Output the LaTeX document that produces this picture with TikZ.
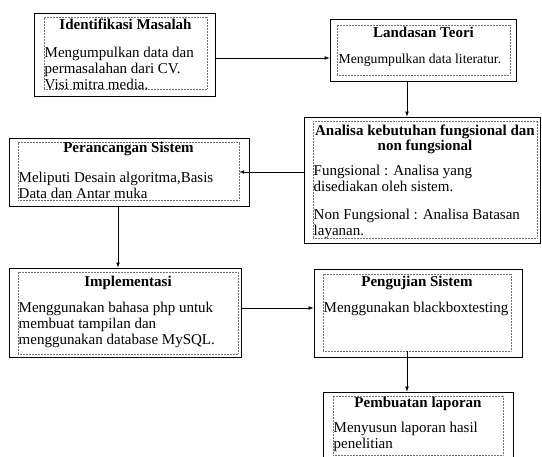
\documentclass[tikz,border=0pt]{standalone}
\usepackage{fontspec}
\setmainfont{Liberation Serif}
\usetikzlibrary{positioning,calc}

\begin{document}
\begin{tikzpicture}[x=1pt, y=-1pt,
    outer/.style={draw, line width=0.9pt, inner sep=0},
    inner/.style={draw=black!55, densely dotted, line width=0.5pt, inner sep=0},
    head/.style={font=\bfseries\fontsize{15}{15}\selectfont, anchor=base, inner sep=0},
    body/.style={font=\fontsize{15}{16}\selectfont, anchor=north west, align=left, inner sep=0},
    link/.style={-latex, line width=0.7pt}]
  \useasboundingbox (0,0) rectangle (542,457);
  \clip (0,0) rectangle (542,457);
  \fill[white] (0,0) rectangle (542,457);

  % Identifikasi Masalah
  \node[outer, minimum width=181pt, minimum height=83pt] (identBox) at (124.5,54.5) {};
  \node[inner, minimum width=163pt, minimum height=72pt] (identIn) at (125.5,53) {};
  \node[head] (identHead) at (125.5,29.5) {Identifikasi Masalah};
  \node[body] (identText) at (44.5,46.7) {Mengumpulkan data dan\\ permasalahan dari CV.\\ Visi mitra media.};

  % Landasan Teori
  \node[outer, minimum width=186pt, minimum height=62pt] (landBox) at (423,50) {};
  \node[inner, minimum width=173pt, minimum height=50pt] (landIn) at (423.5,50) {};
  \node[head] (landHead) at (423.5,38) {Landasan Teori};
  \node[body, font=\fontsize{13.7}{16}\selectfont] (landText) at (338.5,53.6) {Mengumpulkan data literatur.};

  % Analisa kebutuhan
  \node[outer, minimum width=236.5pt, minimum height=126pt] (analisaBox) at (422.25,180) {};
  \node[inner, minimum width=224pt, minimum height=117pt] (analisaIn) at (425,179.5) {};
  \node[head, anchor=north, align=center] (analisaHead) at (425,125) {Analisa kebutuhan fungsional dan\\ non fungsional};
  \node[body] (analisaText) at (313.5,164.7) {Fungsional : Analisa yang\\ disediakan oleh sistem.\\[12pt] Non Fungsional : Analisa Batasan\\ layanan.};

  % Perancangan Sistem
  \node[outer, minimum width=240pt, minimum height=68pt] (perancBox) at (129,172) {};
  \node[inner, minimum width=221pt, minimum height=58pt] (perancIn) at (128.5,171) {};
  \node[head] (perancHead) at (128.5,153) {Perancangan Sistem};
  \node[body] (perancText) at (18.5,171.7) {Meliputi Desain algoritma,Basis\\ Data dan Antar muka};

  % Implementasi
  \node[outer, minimum width=232pt, minimum height=89pt] (implBox) at (125,312.5) {};
  \node[inner, minimum width=220pt, minimum height=82pt] (implIn) at (128,313) {};
  \node[head] (implHead) at (128,287) {Implementasi};
  \node[body] (implText) at (18.5,301.7) {Menggunakan bahasa php untuk\\ membuat tampilan dan\\ menggunakan database MySQL.};

  % Pengujian Sistem
  \node[outer, minimum width=208pt, minimum height=88pt] (pengBox) at (418,313) {};
  \node[inner, minimum width=188pt, minimum height=77pt] (pengIn) at (417,312.5) {};
  \node[head] (pengHead) at (417,287) {Pengujian Sistem};
  \node[body] (pengText) at (323.5,301.7) {Menggunakan blackboxtesting};

  % Pembuatan laporan
  \node[outer, minimum width=190pt, minimum height=78pt] (pembBox) at (418,431) {};
  \node[inner, minimum width=170pt, minimum height=59pt] (pembIn) at (418,425.5) {};
  \node[head] (pembHead) at (418,408) {Pembuatan laporan};
  \node[body] (pembText) at (333.5,421.7) {Menyusun laporan hasil\\ penelitian};

  % arrows
  \coordinate (a1) at ([yshift=-3.5pt]identBox.east);
  \draw[link] (a1) -- (a1 -| landBox.west);
  \coordinate (a2) at ([xshift=-16pt]landBox.south);
  \draw[link] (a2) -- (a2 |- analisaBox.north);
  \coordinate (a3) at ([yshift=8pt]analisaBox.west);
  \draw[link] (a3) -- (a3 -| perancIn.east);
  \coordinate (a4) at ([xshift=-11pt]perancBox.south);
  \draw[link] (a4) -- (a4 |- implBox.north);
  \coordinate (a5) at ([yshift=4.5pt]implBox.east);
  \draw[link] (a5) -- (a5 -| pengBox.west);
  \coordinate (a6) at ([xshift=-10pt]pengIn.south);
  \draw[link] (a6) -- (a6 |- pembBox.north);
\end{tikzpicture}
\end{document}
